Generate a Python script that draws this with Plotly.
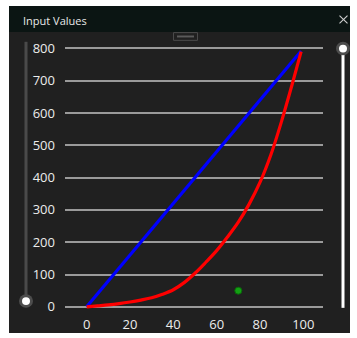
import plotly.graph_objects as go

W, H = 357, 338

# Data
blue_x = [0, 99]
blue_y = [0, 792]
red_x = [0, 5, 10, 15, 20, 25, 30, 35, 40, 45, 50, 55, 60, 65, 70, 75, 80, 85, 90, 95, 99]
red_y = [0, 3, 6, 10, 15, 21, 28, 39, 53, 75, 104, 138, 174, 216, 262, 318, 385, 470, 575, 692, 790]
pt_x = [70]
pt_y = [50]
y_ticks = [0, 100, 200, 300, 400, 500, 600, 700, 800]
x_ticks = [0, 20, 40, 60, 80, 100]


def px(x):
    return x / W


def py(y):
    return 1 - y / H


fig = go.Figure()
fig.add_trace(go.Scatter(x=blue_x, y=blue_y, mode="lines",
                         line=dict(color="#0000ff", width=3.2), hoverinfo="skip"))
fig.add_trace(go.Scatter(x=red_x, y=red_y, mode="lines",
                         line=dict(color="#ff0000", width=3.2, shape="spline", smoothing=1.0),
                         hoverinfo="skip"))
fig.add_trace(go.Scatter(x=pt_x, y=pt_y, mode="markers",
                         marker=dict(color="#13a013", size=7, line=dict(color="#0a6a0a", width=1)),
                         hoverinfo="skip"))

# axis geometry (pixels)
x0px, x1px = 65, 323
ytop_px, ybot_px = 40.5, 314.3

shapes = [
    # window body
    dict(type="rect", xref="paper", yref="paper", x0=px(9), x1=px(350), y0=py(338), y1=py(0),
         fillcolor="#202020", line=dict(width=0), layer="below"),
    # title bar
    dict(type="rect", xref="paper", yref="paper", x0=px(9), x1=px(350), y0=py(27), y1=py(0),
         fillcolor="#0b1513", line=dict(width=0), layer="below"),
    # close cross
    dict(type="line", xref="paper", yref="paper", x0=px(339.5), x1=px(347.5), y0=py(10), y1=py(18),
         line=dict(color="#cfcfcf", width=1.1), layer="above"),
    dict(type="line", xref="paper", yref="paper", x0=px(339.5), x1=px(347.5), y0=py(18), y1=py(10),
         line=dict(color="#cfcfcf", width=1.1), layer="above"),
    # small handle
    dict(type="rect", xref="paper", yref="paper", x0=px(173.5), x1=px(197.5), y0=py(35.5), y1=py(27.5),
         fillcolor="#202020", line=dict(color="#4a4a4a", width=1), layer="above"),
    dict(type="rect", xref="paper", yref="paper", x0=px(177), x1=px(194), y0=py(32.5), y1=py(30.5),
         fillcolor="#5a5a5a", line=dict(width=0), layer="above"),
    # left slider track
    dict(type="rect", xref="paper", yref="paper", x0=px(24.5), x1=px(27.5), y0=py(300), y1=py(37),
         fillcolor="#4a4a4a", line=dict(width=0), layer="above"),
    # left knob
    dict(type="circle", xref="paper", yref="paper", x0=px(19), x1=px(33), y0=py(312), y1=py(298),
         fillcolor="#4d4d4d", line=dict(width=0), layer="above"),
    dict(type="circle", xref="paper", yref="paper", x0=px(22), x1=px(30), y0=py(309), y1=py(301),
         fillcolor="#ffffff", line=dict(width=0), layer="above"),
    # right slider track
    dict(type="rect", xref="paper", yref="paper", x0=px(341.5), x1=px(344.5), y0=py(312), y1=py(48),
         fillcolor="#ffffff", line=dict(width=0), layer="above"),
    # right knob
    dict(type="circle", xref="paper", yref="paper", x0=px(336), x1=px(350), y0=py(51), y1=py(37),
         fillcolor="#4d4d4d", line=dict(width=0), layer="above"),
    dict(type="circle", xref="paper", yref="paper", x0=px(339), x1=px(347), y0=py(48), y1=py(40),
         fillcolor="#ffffff", line=dict(width=0), layer="above"),
]

annotations = [
    dict(text="Input Values", xref="paper", yref="paper", x=px(21), y=py(15),
         xanchor="left", yanchor="middle", showarrow=False,
         font=dict(family="Open Sans, Noto Sans, sans-serif", size=11, color="#e8e8e8")),
]

fig.update_layout(
    width=W, height=H,
    margin=dict(l=0, r=0, t=0, b=0, pad=0),
    paper_bgcolor="#ffffff",
    plot_bgcolor="#202020",
    showlegend=False,
    shapes=shapes,
    annotations=annotations,
    font=dict(family="Open Sans, Noto Sans, sans-serif", size=13, color="#ececec"),
    xaxis=dict(domain=[px(x0px), px(x1px)], range=[-10, 109.1],
               tickvals=x_ticks, showgrid=False, zeroline=False, showline=False,
               ticks="", ticklabelstandoff=5, fixedrange=True),
    yaxis=dict(domain=[1 - ybot_px / H, 1 - ytop_px / H], range=[-10, 810],
               tickvals=y_ticks, showgrid=True, gridcolor="#9a9a9a", gridwidth=2,
               zeroline=True, zerolinecolor="#9a9a9a", zerolinewidth=2,
               showline=False, ticks="", ticklabelstandoff=9, fixedrange=True),
)

fig.write_html(
    "out.html",
    config={"displayModeBar": False},
    post_script="document.body.style.margin='0';document.body.style.overflow='hidden';",
)
